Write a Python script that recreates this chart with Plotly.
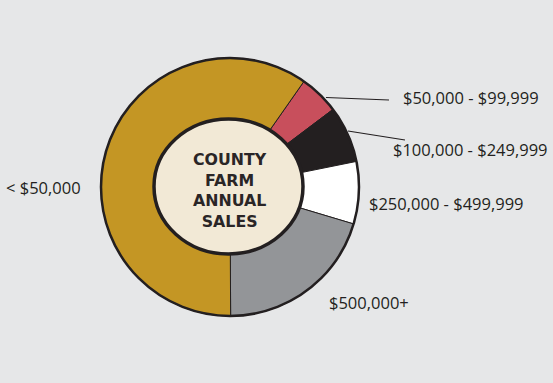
import plotly.graph_objects as go

W, H = 553, 383

categories = ["$50,000 - $99,999", "$100,000 - $249,999", "$250,000 - $499,999", "$500,000+", "< $50,000"]
shares = [5.0, 7.1, 7.8, 20.3, 59.8]
colors = ["#c84f5c", "#231f20", "#ffffff", "#939598", "#c49624"]
center_title = "COUNTY<br>FARM<br>ANNUAL<br>SALES"


def px(x):
    return x / W


def py(y):
    return 1 - y / H


cx, cy, r = 230, 187, 129

fig = go.Figure()
fig.add_trace(go.Pie(
    labels=categories,
    values=shares,
    marker=dict(colors=colors, line=dict(color="#231f20", width=1)),
    sort=False,
    direction="clockwise",
    rotation=35,
    textinfo="none",
    hoverinfo="label+percent",
    hole=0.3,
    showlegend=False,
    domain=dict(x=[px(cx - r), px(cx + r)], y=[py(cy + r), py(cy - r)]),
))

shapes = [
    # outer ring border
    dict(type="circle", xref="paper", yref="paper",
         x0=px(cx - r), x1=px(cx + r), y0=py(cy + r), y1=py(cy - r),
         line=dict(color="#231f20", width=2.5), fillcolor="rgba(0,0,0,0)", layer="above"),
    # centre disc
    dict(type="circle", xref="paper", yref="paper",
         x0=px(154), x1=px(303), y0=py(254), y1=py(119),
         line=dict(color="#231f20", width=3.5), fillcolor="#f2e9d6", layer="above"),
    # leader lines
    dict(type="line", xref="paper", yref="paper",
         x0=px(326), y0=py(97.5), x1=px(389), y1=py(100),
         line=dict(color="#231f20", width=1.2), layer="above"),
    dict(type="line", xref="paper", yref="paper",
         x0=px(348), y0=py(131), x1=px(405), y1=py(140),
         line=dict(color="#231f20", width=1.2), layer="above"),
]

label_font = dict(family="Open Sans, Arial, sans-serif", size=16.5, color="#231f20")
label_pos = [(401, 97), (391, 150), (367, 203), (327, 302), (4, 187)]
annotations = []
for text, (lx, ly) in zip(categories, label_pos):
    annotations.append(dict(
        text=text, x=px(lx), y=py(ly), xref="paper", yref="paper",
        xanchor="left", yanchor="middle", showarrow=False, font=label_font))

annotations.append(dict(
    text=center_title, x=px(230), y=py(191), xref="paper", yref="paper",
    xanchor="center", yanchor="middle", showarrow=False, align="center",
    font=dict(family="DejaVu Sans, Arial, sans-serif", size=15.8, color="#2a2526", weight=600)))

fig.update_layout(
    width=W, height=H,
    margin=dict(l=0, r=0, t=0, b=0),
    paper_bgcolor="#e6e7e8",
    plot_bgcolor="#e6e7e8",
    shapes=shapes,
    annotations=annotations,
)

fig.write_html(
    "out.html",
    config={"displayModeBar": False},
    post_script="document.body.style.margin='0';document.body.style.background='#e6e7e8';document.body.style.overflow='hidden';",
)
